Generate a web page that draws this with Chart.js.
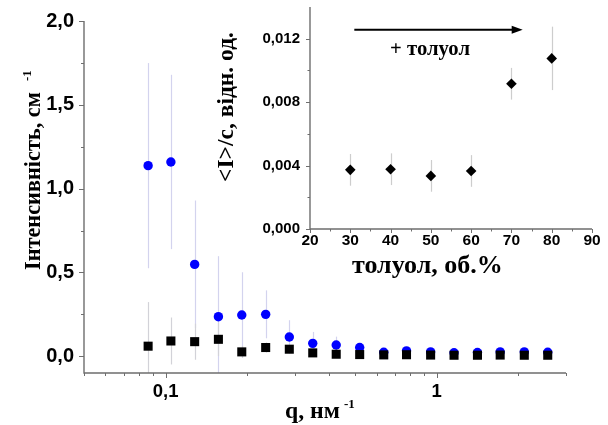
<!DOCTYPE html>
<html><head><meta charset="utf-8">
<script src="https://cdn.jsdelivr.net/npm/chart.js@4/dist/chart.umd.min.js"></script>
<style>
html,body{margin:0;padding:0;background:#fff;}
#wrap{position:relative;width:608px;height:425px;overflow:hidden;}
#main{position:absolute;left:0;top:0;}
#inset{position:absolute;left:200px;top:0;}
</style></head><body>
<div id="wrap"><canvas id="main" width="608" height="425"></canvas><canvas id="inset" width="408" height="300"></canvas></div>
<script>
// ---- main chart data ----
const qValues = [0.0862, 0.1046, 0.128, 0.1566, 0.191, 0.234, 0.286, 0.349, 0.426, 0.520, 0.638, 0.774, 0.950, 1.159, 1.414, 1.715, 2.105, 2.569];
const blueIntensity = [1.137, 1.159, 0.548, 0.236, 0.246, 0.250, 0.115, 0.077, 0.067, 0.052, 0.024, 0.032, 0.026, 0.021, 0.022, 0.026, 0.026, 0.024];
const blueError = [0.612, 0.520, 0.381, 0.361, 0.255, 0.143, 0.100, 0.068, 0.050, 0.015, 0.010, 0.010, 0.008, 0.008, 0.008, 0.008, 0.008, 0.008];
const squareIntensity = [0.060, 0.091, 0.087, 0.101, 0.026, 0.052, 0.042, 0.020, 0.012, 0.010, 0.008, 0.009, 0.007, 0.006, 0.006, 0.007, 0.006, 0.006];
const squareError = [0.263, 0.140, 0.108, 0.100, 0.035, 0.030, 0.020, 0.012, 0.010, 0.008, 0.006, 0.006, 0.005, 0.005, 0.005, 0.005, 0.005, 0.005];
const qTickValues = [0.05, 0.06, 0.07, 0.08, 0.09, 0.1, 0.2, 0.3, 0.4, 0.5, 0.6, 0.7, 0.8, 0.9, 1, 2, 3];
const qMajorTicks = [0.1, 1];
const qTickLabels = ['0,1', '1'];
const intensityMajorTicks = [0, 0.5, 1.0, 1.5, 2.0];
const intensityMinorTicks = [0.25, 0.75, 1.25, 1.75];
const mainYTitle = 'Інтенсивність, см';
const mainXTitle = 'q, нм';
const superscript = '-1';

// ---- inset data ----
const toluene = [30, 40, 50, 60, 70, 80];
const ratio = [0.00373, 0.00377, 0.00335, 0.00366, 0.00916, 0.01076];
const ratioError = [0.0010, 0.0010, 0.0010, 0.0010, 0.0010, 0.0020];
const tolueneTicks = [20, 30, 40, 50, 60, 70, 80, 90];
const tolueneMinorTicks = [25, 35, 45, 55, 65, 75, 85];
const ratioTicks = [0, 0.004, 0.008, 0.012];
const ratioMinorTicks = [0.002, 0.006, 0.010];
const insetYTitle = '<I>/c, відн. од.';
const insetXTitle = 'толуол, об.%';
const arrowLabel = '+ толуол';

const AXIS_COLOR = '#6e6e6e';
const SANS = '"Liberation Sans", Arial, sans-serif';
const SERIF = '"Liberation Serif", "Times New Roman", serif';

function fitSize(ctx, text, target) {
  ctx.font = 'bold 100px ' + SERIF;
  return 100 * target / ctx.measureText(text).width;
}

const errorBarsPlugin = {
  id: 'errbars',
  beforeDatasetsDraw(chart, args, opts) {
    const ctx = chart.ctx, area = chart.chartArea;
    const xs = chart.scales.x, ys = chart.scales.y;
    ctx.save();
    ctx.beginPath();
    ctx.rect(area.left, area.top, area.right - area.left, area.bottom - area.top);
    ctx.clip();
    (opts.sets || []).forEach(set => {
      const ds = chart.data.datasets[set.dataset];
      ctx.strokeStyle = set.color;
      ctx.lineWidth = set.width;
      ds.data.forEach((p, i) => {
        const e = set.err[i];
        const x = Math.round(xs.getPixelForValue(p.x)) + 0.5;
        ctx.beginPath();
        ctx.moveTo(x, ys.getPixelForValue(p.y - e));
        ctx.lineTo(x, ys.getPixelForValue(p.y + e));
        ctx.stroke();
      });
    });
    ctx.restore();
  }
};

const axesPlugin = {
  id: 'axesdeco',
  afterDraw(chart, args, o) {
    const ctx = chart.ctx, a = chart.chartArea;
    const xs = chart.scales.x, ys = chart.scales.y;
    ctx.save();
    ctx.strokeStyle = AXIS_COLOR;
    ctx.lineWidth = o.lineWidth;
    ctx.beginPath();
    ctx.moveTo(a.left, a.top);
    ctx.lineTo(a.left, a.bottom);
    ctx.lineTo(a.right, a.bottom);
    ctx.stroke();
    ctx.lineWidth = 1;
    ctx.beginPath();
    o.xMajor.forEach(v => { const x = Math.round(xs.getPixelForValue(v)) + 0.5; ctx.moveTo(x, a.bottom); ctx.lineTo(x, a.bottom + o.majorLen); });
    o.xMinor.forEach(v => { const x = Math.round(xs.getPixelForValue(v)) + 0.5; ctx.moveTo(x, a.bottom); ctx.lineTo(x, a.bottom + o.minorLen); });
    o.yMajor.forEach(v => { const y = Math.round(ys.getPixelForValue(v)) + 0.5; ctx.moveTo(a.left, y); ctx.lineTo(a.left - o.majorLen, y); });
    o.yMinor.forEach(v => { const y = Math.round(ys.getPixelForValue(v)) + 0.5; ctx.moveTo(a.left, y); ctx.lineTo(a.left - o.minorLen, y); });
    ctx.stroke();
    ctx.restore();
    if (o.titles) o.titles(chart, ctx);
  }
};

function commonScaleBits() {
  return { grid: { display: false, drawTicks: false }, border: { display: false } };
}

// ---------------- MAIN CHART ----------------
new Chart(document.getElementById('main'), {
  type: 'scatter',
  data: {
    datasets: [
      { label: 'squares', data: qValues.map((q, i) => ({ x: q, y: squareIntensity[i] })),
        pointStyle: 'rect', pointRadius: 6.4, backgroundColor: '#000', borderWidth: 0 },
      { label: 'circles', data: qValues.map((q, i) => ({ x: q, y: blueIntensity[i] })),
        pointStyle: 'circle', pointRadius: 4.7, backgroundColor: '#0000ff', borderWidth: 0 }
    ]
  },
  options: {
    responsive: false, animation: false, devicePixelRatio: 1,
    layout: { padding: { left: 0, top: 21, right: 42, bottom: 0 } },
    plugins: {
      legend: { display: false }, tooltip: { enabled: false },
      errbars: { sets: [
        { dataset: 1, err: blueError, color: '#d3d3ee', width: 1.2 },
        { dataset: 0, err: squareError, color: '#d2d2d8', width: 1.2 }
      ] },
      axesdeco: {
        lineWidth: 1.4, majorLen: 5, minorLen: 3,
        xMajor: qMajorTicks, xMinor: qTickValues.filter(v => !qMajorTicks.includes(v)),
        yMajor: intensityMajorTicks, yMinor: intensityMinorTicks,
        titles(chart, ctx) {
          ctx.save();
          ctx.fillStyle = '#000';
          ctx.textBaseline = 'alphabetic';
          ctx.textAlign = 'left';
          const ys = fitSize(ctx, mainYTitle, 178);
          ctx.translate(40, 270);
          ctx.rotate(-Math.PI / 2);
          ctx.font = 'bold ' + ys + 'px ' + SERIF;
          ctx.fillText(mainYTitle, 0, 0);
          ctx.font = 'bold 13px ' + SERIF;
          ctx.fillText(superscript, 189, -9);
          ctx.restore();
          ctx.save();
          ctx.fillStyle = '#000';
          ctx.textAlign = 'left';
          const xsz = fitSize(ctx, mainXTitle, 55);
          ctx.font = 'bold ' + xsz + 'px ' + SERIF;
          ctx.fillText(mainXTitle, 285, 418);
          ctx.font = 'bold 13px ' + SERIF;
          ctx.fillText(superscript, 344, 408);
          ctx.restore();
        }
      }
    },
    scales: {
      x: Object.assign(commonScaleBits(), {
        type: 'logarithmic', position: 'bottom', min: 0.05, max: 3,
        afterBuildTicks: s => { s.ticks = qTickValues.map(v => ({ value: v })); },
        afterFit: s => { s.height = 52; s.paddingLeft = 0; s.paddingRight = 0; },
        ticks: { autoSkip: false, maxRotation: 0, minRotation: 0, padding: 8, color: '#000',
          font: { family: SANS, weight: 'bold', size: 18.5 },
          callback: v => { const k = qMajorTicks.findIndex(m => Math.abs(m - v) < 1e-9); return k >= 0 ? qTickLabels[k] : ''; } }
      }),
      y: Object.assign(commonScaleBits(), {
        type: 'linear', min: -0.1, max: 2.0,
        afterBuildTicks: s => { s.ticks = intensityMajorTicks.map(v => ({ value: v })); },
        afterFit: s => { s.width = 84; s.paddingTop = 0; s.paddingBottom = 0; },
        ticks: { padding: 10, color: '#000', font: { family: SANS, weight: 'bold', size: 20 },
          callback: v => v.toFixed(1).replace('.', ',') }
      })
    }
  },
  plugins: [errorBarsPlugin, axesPlugin]
});

// ---------------- INSET CHART ----------------
new Chart(document.getElementById('inset'), {
  type: 'scatter',
  data: {
    datasets: [
      { label: 'ratio', data: toluene.map((t, i) => ({ x: t, y: ratio[i] })),
        pointStyle: 'rectRot', pointRadius: 5.3, backgroundColor: '#000', borderWidth: 0 }
    ]
  },
  options: {
    responsive: false, animation: false, devicePixelRatio: 1,
    layout: { padding: { left: 0, top: 7, right: 16, bottom: 0 } },
    plugins: {
      legend: { display: false }, tooltip: { enabled: false },
      errbars: { sets: [ { dataset: 0, err: ratioError, color: '#cdcdcd', width: 1.2 } ] },
      axesdeco: {
        lineWidth: 1.4, majorLen: 4, minorLen: 2.5,
        xMajor: tolueneTicks, xMinor: tolueneMinorTicks,
        yMajor: ratioTicks, yMinor: ratioMinorTicks,
        titles(chart, ctx) {
          const xs = chart.scales.x, ys = chart.scales.y;
          ctx.save();
          ctx.fillStyle = '#000';
          ctx.textAlign = 'left';
          ctx.textBaseline = 'alphabetic';
          const s1 = fitSize(ctx, insetYTitle, 150);
          ctx.translate(33, 182);
          ctx.rotate(-Math.PI / 2);
          ctx.font = 'bold ' + s1 + 'px ' + SERIF;
          ctx.fillText(insetYTitle, 0, 0);
          ctx.restore();
          ctx.save();
          ctx.fillStyle = '#000';
          ctx.textAlign = 'left';
          const s2 = fitSize(ctx, insetXTitle, 151);
          ctx.font = 'bold ' + s2 + 'px ' + SERIF;
          ctx.fillText(insetXTitle, 152, 273);
          const ax1 = xs.getPixelForValue(31), ax2 = xs.getPixelForValue(72.8), ay = ys.getPixelForValue(0.01257);
          ctx.strokeStyle = '#000'; ctx.lineWidth = 2;
          ctx.beginPath(); ctx.moveTo(ax1, ay); ctx.lineTo(ax2 - 8, ay); ctx.stroke();
          ctx.beginPath(); ctx.moveTo(ax2, ay); ctx.lineTo(ax2 - 11, ay - 4); ctx.lineTo(ax2 - 11, ay + 4); ctx.closePath(); ctx.fill();
          const s3 = fitSize(ctx, arrowLabel, 80);
          ctx.font = 'bold ' + s3 + 'px ' + SERIF;
          ctx.textAlign = 'center';
          ctx.fillText(arrowLabel, xs.getPixelForValue(49.8), ys.getPixelForValue(0.01099));
          ctx.restore();
        }
      }
    },
    scales: {
      x: Object.assign(commonScaleBits(), {
        type: 'linear', position: 'bottom', min: 20, max: 90,
        afterBuildTicks: s => { s.ticks = tolueneTicks.map(v => ({ value: v })); },
        afterFit: s => { s.height = 71; s.paddingLeft = 0; s.paddingRight = 0; },
        ticks: { autoSkip: false, maxRotation: 0, padding: 2, color: '#000',
          font: { family: SANS, weight: 'bold', size: 15.5 }, callback: v => String(v) }
      }),
      y: Object.assign(commonScaleBits(), {
        type: 'linear', min: 0, max: 0.014,
        afterBuildTicks: s => { s.ticks = ratioTicks.map(v => ({ value: v })); },
        afterFit: s => { s.width = 110; s.paddingTop = 0; s.paddingBottom = 0; },
        ticks: { padding: 10, color: '#000', font: { family: SANS, weight: 'bold', size: 15 },
          callback: v => v.toFixed(3).replace('.', ',') }
      })
    }
  },
  plugins: [errorBarsPlugin, axesPlugin]
});
</script>
</body></html>
